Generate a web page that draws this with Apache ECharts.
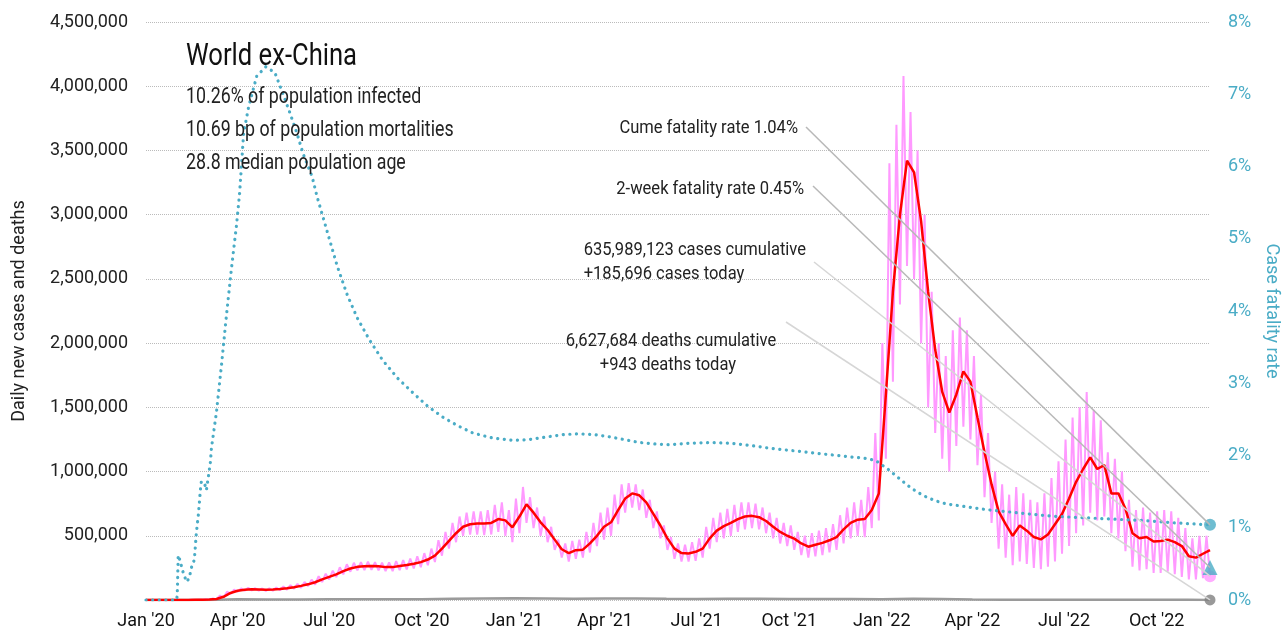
<!DOCTYPE html>
<html><head><meta charset="utf-8">
<script src="https://cdn.jsdelivr.net/npm/echarts@6/dist/echarts.min.js"></script>
<style>html,body{margin:0;padding:0;background:#fff}#c{width:1288px;height:639px}</style>
</head><body><div id="c"></div>
<script>
// ---------- DATA ----------
const startDate = '2020-01-01';
const endDate = '2022-11-23';
const tickDates = ['2020-01-01','2020-04-01','2020-07-01','2020-10-01','2021-01-01','2021-04-01','2021-07-01','2021-10-01','2022-01-01','2022-04-01','2022-07-01','2022-10-01'];
const tickLabels = ["Jan '20","Apr '20","Jul '20","Oct '20","Jan '21","Apr '21","Jul '21","Oct '21","Jan '22","Apr '22","Jul '22","Oct '22"];

// 7-day average new cases (thousands), one value per week starting 2020-01-01
const avgCasesK = [
0,0,0,0,0,0,0,1,1,3,
8,25,55,72,80,84,82,80,82,86,
92,100,110,122,138,160,180,200,225,245,
258,262,265,262,256,256,265,272,282,295,
315,345,400,460,520,570,590,595,595,600,
630,620,566,650,745,680,605,545,470,395,
365,388,392,441,500,570,605,700,790,830,
815,760,670,580,480,400,365,362,375,400,
480,540,575,600,630,650,655,645,615,571,
530,500,478,440,415,430,445,465,490,550,
600,625,630,700,830,1600,2400,3000,3420,3330,
2950,2400,1950,1620,1460,1600,1780,1700,1420,1150,
900,690,590,500,580,540,490,472,510,590,
670,790,920,1020,1110,1020,1050,830,830,710,
520,480,490,455,460,470,450,420,340,330,
360,389];

// daily new cases: weekly high and low (thousands)
const dailyHighK = [
0,0,0,0,0,0,0,1,2,5,
12,35,65,80,90,95,92,90,92,98,
105,115,125,140,158,185,205,228,255,278,
290,295,298,295,290,292,302,310,322,340,
365,400,465,530,600,650,680,690,690,700,
740,760,700,790,880,800,720,650,570,470,
440,460,470,530,600,680,720,820,900,910,
900,860,780,690,580,490,440,430,450,480,
570,640,680,710,740,760,760,750,720,680,
640,600,580,530,500,520,540,560,590,660,
720,760,780,880,1300,2000,3400,3700,4080,3800,
3500,3000,2400,2000,1900,2100,2200,2100,1900,1600,
1300,1000,900,820,880,830,780,760,830,950,
1080,1250,1420,1500,1620,1480,1400,1150,1100,1000,
780,700,720,680,690,700,690,640,560,480,
500,500];
const dailyLowK = [
0,0,0,0,0,0,0,0,1,2,
5,20,48,65,72,75,72,70,72,76,
80,88,95,108,120,140,160,178,200,220,
230,232,235,230,225,225,232,238,245,255,
270,295,345,400,450,500,510,510,505,510,
530,500,450,520,600,560,500,450,390,330,
300,320,330,370,420,470,500,590,680,720,
700,640,560,480,390,320,300,300,305,330,
400,450,480,500,530,550,560,550,520,480,
440,420,390,350,330,340,350,370,390,440,
480,500,490,560,620,1100,1700,2300,2600,2500,
2000,1500,1300,1100,1000,1200,1350,1250,1050,800,
600,400,330,270,300,280,250,240,260,300,
360,420,520,580,680,620,650,520,480,380,
260,230,240,210,210,220,200,180,160,160,
170,185.696];

// daily deaths (thousands), monthly
const deathDates = ['2020-01-01','2020-02-01','2020-03-01','2020-04-01','2020-05-01','2020-06-01','2020-07-01','2020-08-01','2020-09-01','2020-10-01','2020-11-01','2020-12-01',
'2021-01-01','2021-02-01','2021-03-01','2021-04-01','2021-05-01','2021-06-01','2021-07-01','2021-08-01','2021-09-01','2021-10-01','2021-11-01','2021-12-01',
'2022-01-01','2022-02-01','2022-03-01','2022-04-01','2022-05-01','2022-06-01','2022-07-01','2022-08-01','2022-09-01','2022-10-01','2022-11-01','2022-11-23'];
const deathsK = [0,0,0.5,6,4.5,4.5,5.5,6,5.5,6,9,11,13,11,9,11,12,9,8,10,9,7.5,7,7,6.5,10,7,4,2.5,1.8,2.2,2.3,1.8,1.6,1.3,0.943];

// cumulative case fatality rate (%), by day since 2020-01-01
const cfrDay = [0,30,31,32,34,36,39,41,44,46,48,49,50,52,53,54,55,58,60,62,64,65,70,75,80,85,90,93,97,102,110,119,128,136,143,150,156,165,170,180,190,200,210,222,235,250,265,280,295,310,325,345,365,380,400,415,430,445,460,475,490,505,520,540,560,580,600,620,640,660,680,700,715,725,732,738,745,752,760,768,776,785,795,805,820,835,850,870,900,930,960,990,1020,1057];
const cfrPct = [0,0,0.05,0.62,0.54,0.42,0.3,0.25,0.37,0.5,0.55,0.74,0.92,1.18,1.34,1.52,1.64,1.62,1.52,1.71,1.91,2.1,2.6,3.25,3.95,4.6,5.2,5.63,6.46,6.83,7.25,7.38,7.3,7.01,6.74,6.46,6.18,5.86,5.58,5.1,4.62,4.22,3.9,3.6,3.32,3.07,2.87,2.68,2.53,2.41,2.31,2.24,2.21,2.22,2.26,2.29,2.30,2.29,2.26,2.22,2.18,2.16,2.15,2.17,2.18,2.17,2.14,2.10,2.07,2.04,2.01,1.98,1.96,1.93,1.86,1.8,1.72,1.64,1.55,1.48,1.42,1.37,1.33,1.31,1.28,1.25,1.23,1.2,1.16,1.14,1.12,1.1,1.07,1.04];

const cumeFatality = 1.04;
const twoWeekFatality = 0.45;
const casesToday = 185696;
const deathsToday = 943;

const titleText = 'World ex-China';
const infoLines = ['10.26% of population infected','10.69 bp of population mortalities','28.8 median population age'];
const noteCume = 'Cume fatality rate 1.04%';
const note2wk = '2-week fatality rate 0.45%';
const noteCases = ['635,989,123 cases cumulative','+185,696 cases today'];
const noteDeaths = ['6,627,684 deaths cumulative','+943 deaths today'];

// ---------- BUILD ----------
const DAY = 86400000;
const ts = s => { const [y,m,d] = s.split('-').map(Number); return Date.UTC(y,m-1,d); };
const t0 = ts(startDate), tEnd = ts(endDate);
const tickTimes = tickDates.map(ts);
const FF = "Roboto, 'Liberation Sans', sans-serif";
const TEAL = '#4aacc6', PINK = '#ff99ff', RED = '#ff0000', GRAY = '#9a9a9a';

const avgData = avgCasesK.map((v,i)=>[t0+7*i*DAY, v*1000]);
const pinkData = [];
dailyHighK.forEach((h,i)=>{
  if (i>0) pinkData.push([t0+(7*i-3.5)*DAY, h*1000]);
  pinkData.push([t0+7*i*DAY, dailyLowK[i]*1000]);
});
const deathData = deathDates.map((d,i)=>[ts(d), deathsK[i]*1000]);
const cfrData = cfrDay.map((d,i)=>[t0+d*DAY, cfrPct[i]]);

const chart = echarts.init(document.getElementById('c'));
chart.setOption({
  animation:false,
  backgroundColor:'#fff',
  textStyle:{fontFamily:FF},
  grid:{left:146,right:78,top:22,bottom:39,containLabel:false,outerBoundsMode:'none'},
  xAxis:{type:'value', min:t0, max:tEnd,
    axisLine:{show:false}, axisTick:{show:false}, splitLine:{show:false},
    axisLabel:{customValues:tickTimes, fontSize:18, color:'#111', margin:12, fontFamily:FF,
      formatter:v=>{const i=tickTimes.findIndex(t=>Math.abs(t-v)<DAY/2); return i>=0?tickLabels[i]:'';}}},
  yAxis:[
    {type:'value',min:0,max:4500000,interval:500000,position:'left',
     name:'Daily new cases and deaths',nameLocation:'middle',nameGap:118,
     nameTextStyle:{fontSize:18,color:'#222',fontFamily:FF},
     axisLabel:{fontSize:18,color:'#222',margin:18,fontFamily:FF,formatter:v=>v===0?'':v.toLocaleString('en-US')},
     splitLine:{lineStyle:{type:'dotted',color:'#bbbbbb',width:1}},
     axisLine:{show:false},axisTick:{show:false}},
    {type:'value',min:0,max:8,interval:1,position:'right',
     name:'Case fatality rate',nameLocation:'middle',nameRotate:-90,nameGap:46,
     nameTextStyle:{fontSize:18,color:TEAL,fontFamily:FF},
     axisLabel:{fontSize:18,color:TEAL,margin:18,fontFamily:FF,formatter:'{value}%'},
     splitLine:{show:false},axisLine:{show:false},axisTick:{show:false}}
  ],
  series:[
    {type:'line',name:'daily',data:pinkData,yAxisIndex:0,showSymbol:false,lineStyle:{color:PINK,width:2},z:2},
    {type:'line',name:'deaths',data:deathData,yAxisIndex:0,showSymbol:false,lineStyle:{color:GRAY,width:2.5},z:2},
    {type:'line',name:'avg',data:avgData,yAxisIndex:0,showSymbol:false,lineStyle:{color:RED,width:2.5},z:3},
    {type:'line',name:'cfr',data:cfrData,yAxisIndex:1,showSymbol:false,lineStyle:{color:TEAL,width:3.2,type:[0.1,6.5],cap:'round'},z:4},
    {type:'scatter',yAxisIndex:1,data:[[tEnd,cumeFatality]],symbol:'circle',symbolSize:12,itemStyle:{color:TEAL},z:10},
    {type:'scatter',yAxisIndex:1,data:[[tEnd,twoWeekFatality]],symbol:'triangle',symbolSize:15,itemStyle:{color:TEAL},z:10},
    {type:'scatter',yAxisIndex:0,data:[[tEnd,casesToday]],symbol:'circle',symbolSize:12,itemStyle:{color:PINK},z:9},
    {type:'scatter',yAxisIndex:0,data:[[tEnd,deathsToday]],symbol:'circle',symbolSize:11,itemStyle:{color:'#808080'},z:10}
  ]
});

const p = (yi,v)=>chart.convertToPixel({xAxisIndex:0,yAxisIndex:yi},[tEnd,v]);
const pC = p(1,cumeFatality), p2 = p(1,twoWeekFatality), pK = p(0,casesToday), pD = p(0,deathsToday);
const txt = (s,x,y,size,align,color,sx)=>({type:'text',x:x,y:y,scaleX:sx||1,z:50,silent:true,
  style:{text:s,fill:color||'#222',font:size+'px '+FF,textAlign:align||'left',textVerticalAlign:'middle'}});
const ln = (x1,y1,pt,color)=>({type:'line',z:20,silent:true,shape:{x1:x1,y1:y1,x2:pt[0],y2:pt[1]},style:{stroke:color,lineWidth:1.5}});
chart.setOption({graphic:[
  txt(titleText,186,57,32,'left','#111',0.8),
  txt(infoLines[0],186,97,22.5,'left','#222',0.79),
  txt(infoLines[1],186,130,22.5,'left','#222',0.79),
  txt(infoLines[2],186,163,22.5,'left','#222',0.79),
  txt(noteCume,798,128,19,'right','#222',0.87),
  txt(note2wk,804,189,19,'right','#222',0.87),
  txt(noteCases[0],806,250,19,'right','#222',0.87),
  txt(noteCases[1],664,274,19,'center','#222',0.87),
  txt(noteDeaths[0],671,341,19,'center','#222',0.87),
  txt(noteDeaths[1],668,365,19,'center','#222',0.87),
  ln(806,127,pC,'#b8b8b8'),
  ln(813,186,p2,'#b8b8b8'),
  ln(814,262,pK,'#d6d6d6'),
  ln(786,322,pD,'#d6d6d6')
]});
</script></body></html>
